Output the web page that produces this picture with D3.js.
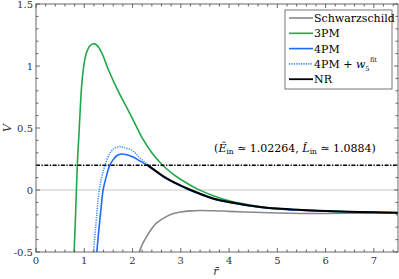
<!DOCTYPE html>
<html><head><meta charset="utf-8">
<script src="https://cdn.jsdelivr.net/npm/d3@7/dist/d3.min.js"></script>
<style>body{margin:0;background:#fff}svg{display:block}
text{font-family:'DejaVu Serif','Liberation Serif','Times New Roman',serif}</style>
</head><body>
<svg id="c" width="399" height="279"></svg>
<script>
const schwarzschild = [[2.14,-0.5],[2.2,-0.44],[2.3,-0.37],[2.4,-0.31],[2.5,-0.265],[2.7,-0.215],[2.85,-0.19],[3.0,-0.177],[3.2,-0.168],[3.4,-0.165],[3.7,-0.167],[4.0,-0.172],[4.5,-0.18],[5.0,-0.186],[5.5,-0.189],[6.0,-0.19],[6.5,-0.188],[7.0,-0.185],[7.5,-0.183]];
const pm3 = [[0.79,-0.5],[0.82,-0.2],[0.855,0.196],[0.89,0.45],[0.92,0.68],[0.95,0.86],[0.99,1.0],[1.04,1.1],[1.11,1.16],[1.19,1.18],[1.27,1.165],[1.37,1.10],[1.5,0.97],[1.7,0.8],[1.9,0.65],[2.05,0.535],[2.2,0.42],[2.4,0.3],[2.6,0.21],[2.8,0.14],[3.0,0.085],[3.36,0.005],[3.7,-0.05],[4.0,-0.087],[4.6,-0.132],[5.0,-0.15],[5.5,-0.162],[6.0,-0.17],[6.5,-0.176],[7.0,-0.18],[7.5,-0.183]];
const pm4 = [[1.26,-0.5],[1.3,-0.33],[1.35,-0.14],[1.39,0.0],[1.45,0.1],[1.53,0.2],[1.6,0.245],[1.68,0.278],[1.77,0.29],[1.86,0.286],[2.0,0.268],[2.15,0.235],[2.29,0.203],[2.45,0.158],[2.64,0.106],[2.85,0.06],[3.0,0.032],[3.12,0.01],[3.4,-0.035],[3.67,-0.072],[4.0,-0.1],[4.6,-0.137],[5.0,-0.152],[5.5,-0.163],[6.0,-0.171],[6.5,-0.177],[7.0,-0.181],[7.5,-0.184]];
const pm4w5 = [[1.19,-0.5],[1.23,-0.33],[1.27,-0.15],[1.31,0.0],[1.36,0.1],[1.43,0.2],[1.53,0.296],[1.62,0.335],[1.72,0.35],[1.82,0.343],[2.0,0.317],[2.15,0.26],[2.29,0.213],[2.45,0.162],[2.64,0.108],[2.85,0.062],[3.0,0.034],[3.12,0.012],[3.4,-0.033],[3.67,-0.07],[4.0,-0.098],[4.6,-0.136],[5.0,-0.151],[5.5,-0.162],[6.0,-0.17],[6.5,-0.176],[7.0,-0.18],[7.5,-0.183]];
const nr = [[2.3,0.205],[2.45,0.162],[2.64,0.11],[2.85,0.064],[3.0,0.036],[3.12,0.014],[3.4,-0.03],[3.67,-0.068],[4.0,-0.097],[4.6,-0.135],[5.0,-0.15],[5.5,-0.161],[6.0,-0.169],[6.5,-0.175],[7.0,-0.18],[7.5,-0.183]];
const energyLevel = 0.2;
const xTicks = [0,1,2,3,4,5,6,7];
const yTicks = [-0.5,0,0.5,1,1.5];
const yTickLabels = ["-0.5","0","0.5","1","1.5"];

const svg = d3.select("#c");
const L=36,T=4,R=398,B=252;
const x = d3.scaleLinear().domain([0,7.5]).range([L,R]);
const y = d3.scaleLinear().domain([-0.5,1.5]).range([B,T]);

svg.append("defs").append("clipPath").attr("id","clip").append("rect")
  .attr("x",L).attr("y",T).attr("width",R-L).attr("height",B-T);

svg.append("line").attr("x1",L).attr("x2",R).attr("y1",y(0)).attr("y2",y(0))
  .attr("stroke","#c8c8c8").attr("stroke-width",1);

const g = svg.append("g").attr("clip-path","url(#clip)");
const line = d3.line().x(d=>x(d[0])).y(d=>y(d[1])).curve(d3.curveCatmullRom.alpha(0.5));

g.append("path").datum(schwarzschild).attr("d",line).attr("fill","none").attr("stroke","#888").attr("stroke-width",1.6);
g.append("path").datum(pm3).attr("d",line).attr("fill","none").attr("stroke","#1fa84a").attr("stroke-width",1.6);
g.append("path").datum(pm4).attr("d",line).attr("fill","none").attr("stroke","#1a6ef5").attr("stroke-width",1.6);
g.append("path").datum(pm4w5).attr("d",line).attr("fill","none").attr("stroke","#3a8cff").attr("stroke-width",1.6).attr("stroke-dasharray","1.2,1.2");
g.append("path").datum(nr).attr("d",line).attr("fill","none").attr("stroke","#000").attr("stroke-width",2);

svg.append("line").attr("x1",L).attr("x2",R).attr("y1",y(energyLevel)).attr("y2",y(energyLevel))
  .attr("stroke","#000").attr("stroke-width",1.4).attr("stroke-dasharray","4,1.5,1.3,1.5");

const axColor="#444";
svg.append("rect").attr("x",L).attr("y",T).attr("width",R-L).attr("height",B-T)
  .attr("fill","none").attr("stroke",axColor).attr("stroke-width",0.8);

const xMinor = d3.range(0,7.5001,0.2);
const yMinor = d3.range(-0.5,1.5001,0.1);
const tk = svg.append("g").attr("stroke",axColor).attr("stroke-width",0.8);
xMinor.forEach(v=>{
  const major = xTicks.some(t=>Math.abs(t-v)<1e-6);
  const len = major?4:2.5;
  tk.append("line").attr("x1",x(v)).attr("x2",x(v)).attr("y1",B).attr("y2",B-len);
  tk.append("line").attr("x1",x(v)).attr("x2",x(v)).attr("y1",T).attr("y2",T+len);
});
yMinor.forEach(v=>{
  const major = yTicks.some(t=>Math.abs(t-v)<1e-6);
  const len = major?4:2.5;
  tk.append("line").attr("y1",y(v)).attr("y2",y(v)).attr("x1",L).attr("x2",L+len);
  tk.append("line").attr("y1",y(v)).attr("y2",y(v)).attr("x1",R).attr("x2",R-len);
});

xTicks.forEach(t=>{
  svg.append("text").attr("x",x(t)).attr("y",B+12).attr("text-anchor","middle")
    .attr("font-size",10).attr("fill","#333").text(t);
});
yTicks.forEach((t,i)=>{
  svg.append("text").attr("x",L-3).attr("y",y(t)+3.5).attr("text-anchor","end")
    .attr("font-size",10).attr("fill","#333").text(yTickLabels[i]);
});

svg.append("text").attr("x",216).attr("y",275).attr("text-anchor","middle")
  .attr("font-size",11).attr("font-style","italic").attr("fill","#333").text("r\u0304");
svg.append("text").attr("transform","translate(11,128) rotate(-90)").attr("text-anchor","middle")
  .attr("font-size",11).attr("font-style","italic").attr("fill","#333").text("V");

const ann = svg.append("text").attr("x",295).attr("y",152).attr("text-anchor","middle")
  .attr("font-size",11).attr("fill","#000");
ann.append("tspan").text("(");
ann.append("tspan").attr("font-style","italic").text("\u00CA");
ann.append("tspan").attr("font-size",7.5).attr("dy",2).text("in");
ann.append("tspan").attr("dy",-2).text(" \u2243 1.02264, ");
ann.append("tspan").attr("font-style","italic").text("L\u0302");
ann.append("tspan").attr("font-size",7.5).attr("dy",2).text("in");
ann.append("tspan").attr("dy",-2).text(" \u2243 1.0884)");

const lg = svg.append("g");
lg.append("rect").attr("x",285).attr("y",10).attr("width",107).attr("height",79)
  .attr("fill","#fff").attr("stroke","#555").attr("stroke-width",0.8);
const legendItems = [
  {name:"Schwarzschild", color:"#888", dash:null, w:1.6},
  {name:"3PM", color:"#1fa84a", dash:null, w:1.6},
  {name:"4PM", color:"#1a6ef5", dash:null, w:1.6},
  {name:"4PM + w5fit", color:"#3a8cff", dash:"1.2,1.2", w:1.6},
  {name:"NR", color:"#000", dash:null, w:1.8}
];
legendItems.forEach((d,i)=>{
  const yy = 18 + i*15.3;
  lg.append("line").attr("x1",289).attr("x2",313).attr("y1",yy).attr("y2",yy)
    .attr("stroke",d.color).attr("stroke-width",d.w).attr("stroke-dasharray",d.dash);
  const t = lg.append("text").attr("x",314).attr("y",yy+4)
    .attr("font-size",11).attr("fill","#000");
  if(i===3){
    t.append("tspan").text("4PM + ");
    t.append("tspan").attr("font-style","italic").text("w");
    t.append("tspan").attr("font-size",6.5).attr("dy",3.5).text("5");
    t.append("tspan").attr("font-size",6.5).attr("dx",0.5).attr("dy",-9).text("fit");
  } else t.text(d.name);
});
</script>
</body></html>
